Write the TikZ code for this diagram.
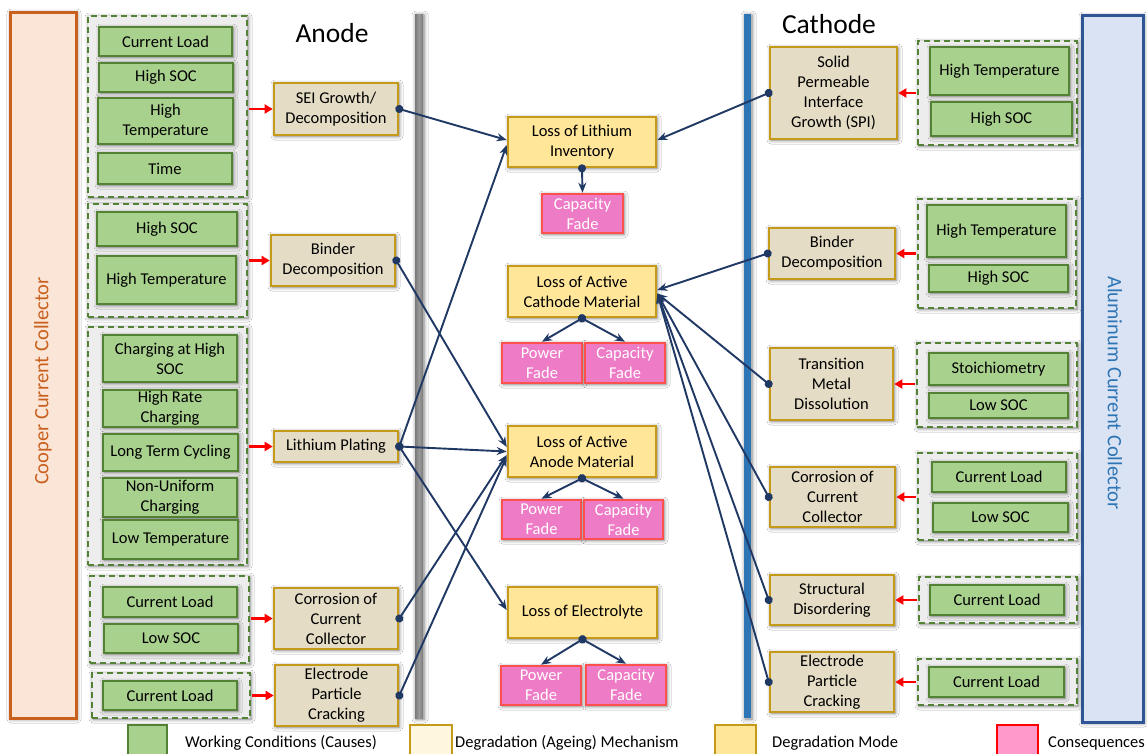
\documentclass[tikz,border=0pt]{standalone}
\usepackage{fontspec}
\setmainfont{Carlito}
\usetikzlibrary{arrows.meta,shadows.blur}
\definecolor{cgreen}{HTML}{A9D18E}
\definecolor{cgreendk}{HTML}{548235}
\definecolor{cgroup}{HTML}{EDEDED}
\definecolor{cgold}{HTML}{C59A1A}
\definecolor{cmech}{HTML}{E4DCC4}
\definecolor{cmode}{HTML}{FFE699}
\definecolor{cpink}{HTML}{EE7BC6}
\definecolor{cred}{HTML}{FF5050}
\definecolor{cnavy}{HTML}{1F3864}
\definecolor{cpeach}{HTML}{FBE5D6}
\definecolor{corange}{HTML}{C9601E}
\definecolor{clblue}{HTML}{DAE3F3}
\definecolor{cblue}{HTML}{2E75B6}
\definecolor{cdblue}{HTML}{2F5597}
\definecolor{clegmech}{HTML}{FFF6E0}
\definecolor{clegcons}{HTML}{FF99CC}
\definecolor{cbar}{HTML}{7A7A7A}
\definecolor{cbarlt}{HTML}{9A9A9A}
\newcommand\myfs{\fontsize{16.5}{20}\selectfont}
\newcommand\mybox[6]{\node[#1,minimum width=#4pt,minimum height=#5pt] (#2) at (#3) {#6};}
\begin{document}
\begin{tikzpicture}[x=1pt,y=-1pt,
  shad/.style={blur shadow={shadow blur steps=6, shadow xshift=1pt, shadow yshift=-1pt, shadow blur radius=4pt, shadow opacity=50}},
  boxbase/.style={line width=2.6pt, align=center, inner sep=1pt, font=\myfs, text=black, shad},
  wc/.style={boxbase, draw=cgreendk, fill=cgreen},
  mech/.style={boxbase, draw=cgold, fill=cmech},
  mode/.style={boxbase, draw=cgold, fill=cmode},
  cons/.style={boxbase, draw=cred, fill=cpink, text=white},
  grp/.style={draw=cgreendk, fill=cgroup, line width=2pt, dash pattern=on 6pt off 4pt, inner sep=0pt, shad},
  conn/.style={draw=cnavy, line width=1.9pt, {Circle[length=8pt]}-{Stealth[length=10pt,width=8pt]}, shorten <=-4pt},
  redarr/.style={draw=red, line width=2.4pt, -{Triangle[length=8pt,width=9pt]}},
  legtxt/.style={font=\myfs, text=black, anchor=base west, inner sep=0pt}
]
\useasboundingbox (0,0) rectangle (1147,753);
\clip (0,0) rectangle (1147,753);
\fill[white] (0,0) rectangle (1147,753);

% collectors
\node[draw=corange, fill=cpeach, line width=3pt, minimum width=66pt, minimum height=706pt, shad] (cu) at (43,365) {};
\node[rotate=90, text=corange, font=\fontsize{20.5}{24}\selectfont, inner sep=0pt] (cutxt) at (43,381) {Cooper Current Collector};
\node[draw=cdblue, fill=clblue, line width=3pt, minimum width=61pt, minimum height=707pt, shad] (al) at (1112.5,368.5) {};
\node[rotate=-90, text=cblue, font=\fontsize{20.5}{24}\selectfont, inner sep=0pt] (altxt) at (1115,393) {Aluminum Current Collector};

% electrode bars
\node[left color=cbar, right color=cbar, middle color=cbarlt, minimum width=8pt, minimum height=704pt, inner sep=0pt, shad] (anbar) at (419,366) {};
\node[fill=cblue, minimum width=7pt, minimum height=704pt, inner sep=0pt, shad] (cabar) at (747.5,366) {};
\node[font=\fontsize{27.5}{30}\selectfont, anchor=base, inner sep=0pt] (anlab) at (332,42) {Anode};
\node[font=\fontsize{27.5}{30}\selectfont, anchor=base, inner sep=0pt] (calab) at (829,33) {Cathode};

% left groups
\mybox{grp}{g1}{167.5,106.5}{159}{181}{}
\mybox{grp}{g2}{167.5,260.5}{159}{113}{}
\mybox{grp}{g3}{167.5,446}{159}{238}{}
\mybox{grp}{g4}{169.5,619.5}{159}{87}{}
\mybox{grp}{g5}{171,695.5}{158}{45}{}
\mybox{wc}{g1a}{165.5,41.5}{133}{29}{Current Load}
\mybox{wc}{g1b}{166,77.5}{134}{29}{High SOC}
\mybox{wc}{g1c}{165.5,121}{135}{46}{High\\Temperature}
\mybox{wc}{g1d}{165,168.5}{134}{31}{Time}
\mybox{wc}{g2a}{167,229}{140}{34}{High SOC}
\mybox{wc}{g2b}{166.5,280}{139}{48}{High Temperature}
\mybox{wc}{g3a}{170,358.5}{134}{47}{Charging at High\\SOC}
\mybox{wc}{g3b}{170,408.5}{134}{37}{High Rate\\Charging}
\mybox{wc}{g3c}{170.5,452.5}{135}{37}{Long Term Cycling}
\mybox{wc}{g3d}{170,497.5}{134}{39}{Non-Uniform\\Charging}
\mybox{wc}{g3e}{170.5,539.5}{135}{39}{Low Temperature}
\mybox{wc}{g4a}{170,602}{134}{30}{Current Load}
\mybox{wc}{g4b}{171,638.5}{134}{29}{Low SOC}
\mybox{wc}{g5a}{170,695.5}{134}{29}{Current Load}

% left mechanisms
\mybox{mech}{sei}{336,109}{124}{52}{SEI Growth/\\Decomposition}
\mybox{mech}{bindl}{333,260.5}{124}{51}{Binder\\Decomposition}
\mybox{mech}{lipl}{336,446.5}{124}{31}{Lithium Plating}
\mybox{mech}{corrl}{336,618.5}{124}{61}{Corrosion of\\Current\\Collector}
\mybox{mech}{epcl}{336.5,695.5}{123}{61}{Electrode\\Particle\\Cracking}

% modes
\mybox{mode}{lli}{582,142}{148}{50}{Loss of Lithium\\Inventory}
\mybox{mode}{lacm}{582,291.5}{148}{51}{Loss of Active\\Cathode Material}
\mybox{mode}{laam}{582,451.5}{148}{51}{Loss of Active\\Anode Material}
\mybox{mode}{le}{582.5,612.5}{149}{51}{Loss of Electrolyte}

% consequences
\mybox{cons}{cf1}{582.5,213.5}{81}{39}{Capacity\\Fade}
\mybox{cons}{pf2}{542,363}{80}{40}{Power\\Fade}
\mybox{cons}{cf2}{625,363}{80}{40}{Capacity\\Fade}
\mybox{cons}{pf3}{541.5,519.5}{79}{39}{Power\\Fade}
\mybox{cons}{cf3}{623.5,519.5}{79}{39}{Capacity\\Fade}
\mybox{cons}{pf4}{541,685.5}{80}{39}{Power\\Fade}
\mybox{cons}{cf4}{626,685}{80}{40}{Capacity\\Fade}

% right mechanisms
\mybox{mech}{spi}{833.5,93}{127}{92}{Solid\\Permeable\\Interface\\Growth (SPI)}
\mybox{mech}{bindr}{832,253.5}{126}{51}{Binder\\Decomposition}
\mybox{mech}{tmd}{831.5,384}{123}{72}{Transition\\Metal\\Dissolution}
\mybox{mech}{corrr}{832.5,497}{125}{60}{Corrosion of\\Current\\Collector}
\mybox{mech}{sd}{832,600}{124}{50}{Structural\\Disordering}
\mybox{mech}{epcr}{832,682}{124}{60}{Electrode\\Particle\\Cracking}

% right groups
\mybox{grp}{r1}{997.5,93}{159}{104}{}
\mybox{grp}{r2}{997,253.5}{158}{109}{}
\mybox{grp}{r3}{997,385}{160}{84}{}
\mybox{grp}{r4}{997.5,496.5}{159}{87}{}
\mybox{grp}{r5}{998,600}{158}{46}{}
\mybox{grp}{r6}{997.5,682}{159}{46}{}
\mybox{wc}{r1a}{999.5,71}{139}{48}{High Temperature}
\mybox{wc}{r1b}{1001.5,119}{141}{34}{High SOC}
\mybox{wc}{r2a}{996.5,231}{139}{52}{High Temperature}
\mybox{wc}{r2b}{998.5,278.5}{139}{27}{High SOC}
\mybox{wc}{r3a}{998.5,369}{139}{32}{Stoichiometry}
\mybox{wc}{r3b}{998.5,405.5}{139}{25}{Low SOC}
\mybox{wc}{r4a}{999,477}{134}{30}{Current Load}
\mybox{wc}{r4b}{1000.5,517.5}{135}{29}{Low SOC}
\mybox{wc}{r5a}{997,600}{134}{30}{Current Load}
\mybox{wc}{r6a}{996.5,682}{135}{30}{Current Load}

% red arrows (causes -> mechanisms)
\draw[redarr] ([xshift=1pt]g1.east |- sei.west) -- (sei.west);
\draw[redarr] ([xshift=1pt]g2.east |- bindl.west) -- (bindl.west);
\draw[redarr] ([xshift=1pt]g3.east |- lipl.west) -- (lipl.west);
\draw[redarr] ([xshift=1pt]g4.east |- corrl.west) -- (corrl.west);
\draw[redarr] ([xshift=1pt]g5.east |- epcl.west) -- (epcl.west);
\draw[redarr] ([xshift=-1pt]r1.west |- spi.east) -- (spi.east);
\draw[redarr] ([xshift=-1pt]r2.west |- bindr.east) -- (bindr.east);
\draw[redarr] ([xshift=-1pt]r3.west |- tmd.east) -- (tmd.east);
\draw[redarr] ([xshift=-1pt]r4.west |- corrr.east) -- (corrr.east);
\draw[redarr] ([xshift=-1pt]r5.west |- sd.east) -- (sd.east);
\draw[redarr] ([xshift=-1pt]r6.west |- epcr.east) -- (epcr.east);

% mechanisms -> modes
\draw[conn] (sei.east) -- ([yshift=2pt]lli.west);
\draw[conn] (lipl.east) -- ([yshift=-3pt]lli.west);
\draw[conn] (bindl.east) -- ([yshift=4.5pt]laam.west);
\draw[conn] (lipl.east) -- (laam.west);
\draw[conn] (corrl.east) -- ([yshift=-3.5pt]laam.west);
\draw[conn] (epcl.east) -- ([yshift=-5pt]laam.west);
\draw[conn] (lipl.east) -- ([yshift=2.5pt]le.west);
\draw[conn] (spi.west) -- ([yshift=2pt]lli.east);
\draw[conn] (bindr.west) -- ([yshift=1.5pt]lacm.east);
\draw[conn] (tmd.west) -- ([yshift=-2pt]lacm.east);
\draw[conn] (corrr.west) -- ([yshift=-2pt]lacm.east);
\draw[conn] (sd.west) -- ([yshift=-2pt]lacm.east);
\draw[conn] (epcr.west) -- ([yshift=-2pt]lacm.east);

% modes -> consequences
\draw[conn] (lli.south) -- (cf1.north);
\draw[conn] (lacm.south) -- (pf2.north);
\draw[conn] (lacm.south) -- (cf2.north);
\draw[conn] (laam.south) -- (pf3.north);
\draw[conn] (laam.south) -- (cf3.north);
\draw[conn] (le.south) -- (pf4.north);
\draw[conn] (le.south) -- (cf4.north);

% legend
\node[draw=cgreendk, fill=cgreen, line width=2.4pt, minimum width=39pt, minimum height=36pt, inner sep=0pt] (lg1) at (147.5,743) {};
\node[legtxt] (lt1) at (185,747) {Working Conditions (Causes)};
\node[draw=cgold, fill=clegmech, line width=2.4pt, minimum width=42pt, minimum height=36pt, inner sep=0pt] (lg2) at (431,743) {};
\node[legtxt] (lt2) at (455,747) {Degradation (Ageing) Mechanism};
\node[draw=cgold, fill=cmode, line width=2.4pt, minimum width=41pt, minimum height=36pt, inner sep=0pt] (lg3) at (735.5,743) {};
\node[legtxt] (lt3) at (772,747) {Degradation Mode};
\node[draw=red, fill=clegcons, line width=2.4pt, minimum width=41pt, minimum height=36pt, inner sep=0pt] (lg4) at (1017.5,743) {};
\node[legtxt] (lt4) at (1048,747) {Consequences};
\end{tikzpicture}
\end{document}
